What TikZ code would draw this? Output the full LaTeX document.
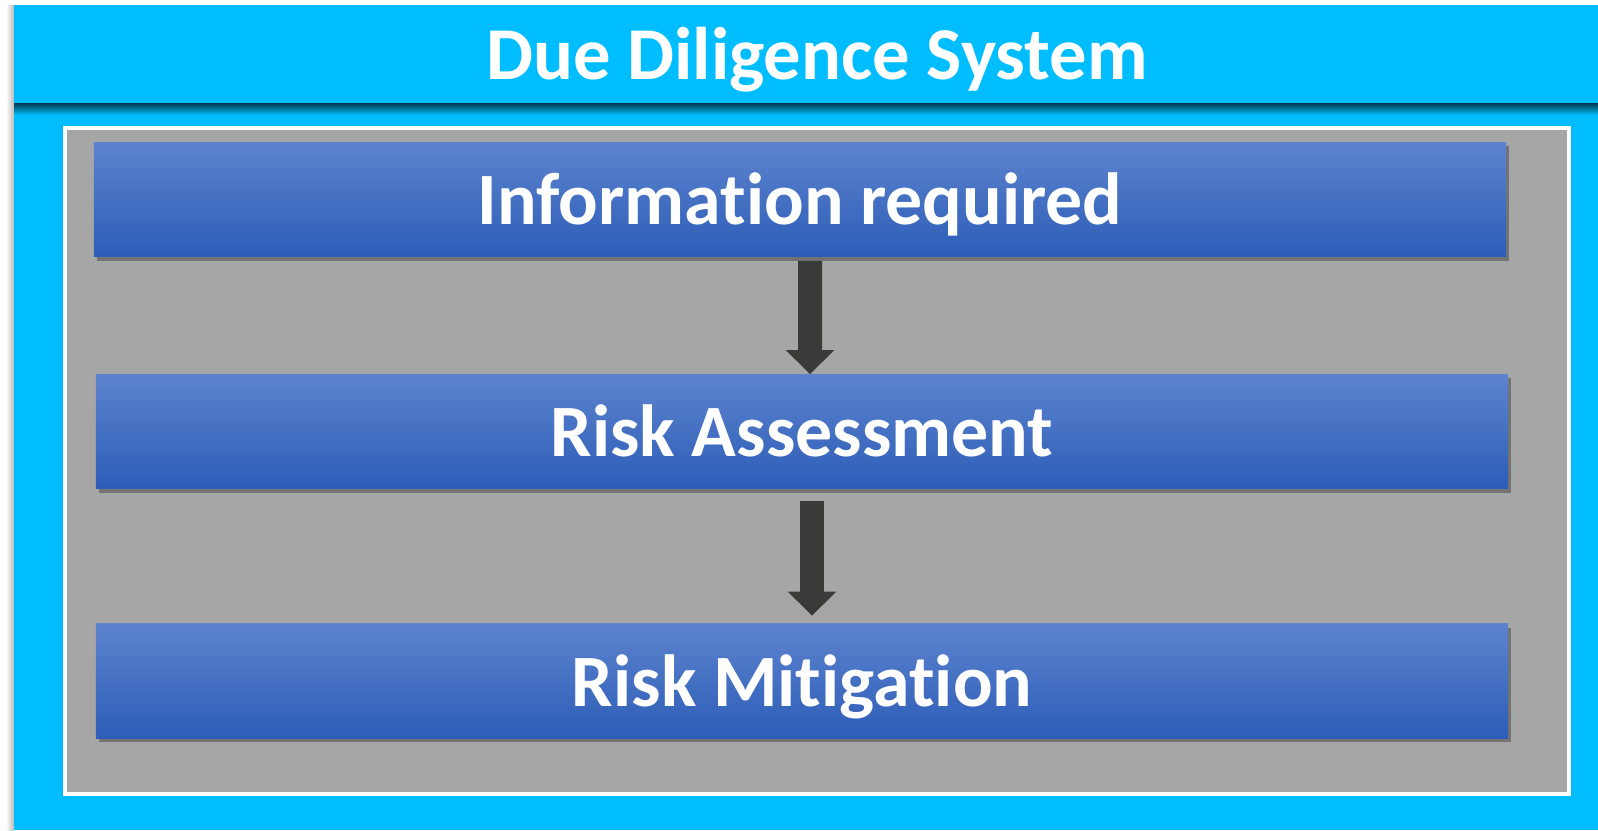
\documentclass[tikz,border=0pt]{standalone}
\usepackage{fontspec}
\setmainfont[Ligatures=NoCommon]{Carlito}
\usetikzlibrary{positioning, arrows.meta, shadows}
\definecolor{skyband}{RGB}{0,189,255}
\definecolor{framegray}{RGB}{166,166,166}
\definecolor{boxtop}{RGB}{93,131,206}
\definecolor{boxbottom}{RGB}{44,93,183}
\definecolor{arrowdark}{RGB}{58,58,56}
\tikzset{x=0.025cm, y=-0.025cm, % one unit is one pixel of the reference
stepbox/.style={ % the three blue boxes
draw=none,
top color=boxtop, bottom color=boxbottom,
minimum width=35.3cm, minimum height=2.85cm,
text height=1.25cm, text depth=0cm,
text=white, font=\bfseries\fontsize{52.5}{60}\selectfont,
drop shadow={shadow xshift=0.08cm, shadow yshift=-0.1cm, opacity=0.3, fill=black}},
flow/.style={ % thick dark arrows between boxes
draw=arrowdark, line width=0.6cm,
-{Triangle[length=0.6cm, width=1.17cm]}}}

\begin{document}
\begin{tikzpicture}
    \useasboundingbox (0,0) rectangle (1598,830);
    \fill[white] (0,0) rectangle (1598,830);
    
    % outer band and title
    \shade[left color=white, right color=gray!55] (6,5) rectangle (14,830);
    \fill[skyband] (14,5) rectangle (1598,830);
    \shade[top color=black!70!skyband, bottom color=skyband] (14,103) rectangle (1598,115);
    \fill[skyband] (14,5) rectangle (1598,103);
    \node[anchor=base, text=white, font=\bfseries\fontsize{53}{60}\selectfont] (title) at (817,79.5) {Due Diligence System};
    
    % grey frame
    \draw[white, line width=0.1cm, fill=framegray] (65,128) rectangle (1569,794);
    
    \node[stepbox] (info) at (800,199.5) {Information required};
    \node[stepbox] (assess) at (802,431.5) {Risk Assessment};
    \node[stepbox] (mitig) at (802,681) {Risk Mitigation};
    
    \draw[flow] ([xshift=0.25cm, yshift=-0.1cm]info.south) -- ([xshift=0.2cm]assess.north);
    \draw[flow] ([xshift=0.25cm, yshift=-0.3cm]assess.south) -- ([xshift=0.25cm, yshift=0.2cm]mitig.north);
    
\end{tikzpicture}
\end{document}
